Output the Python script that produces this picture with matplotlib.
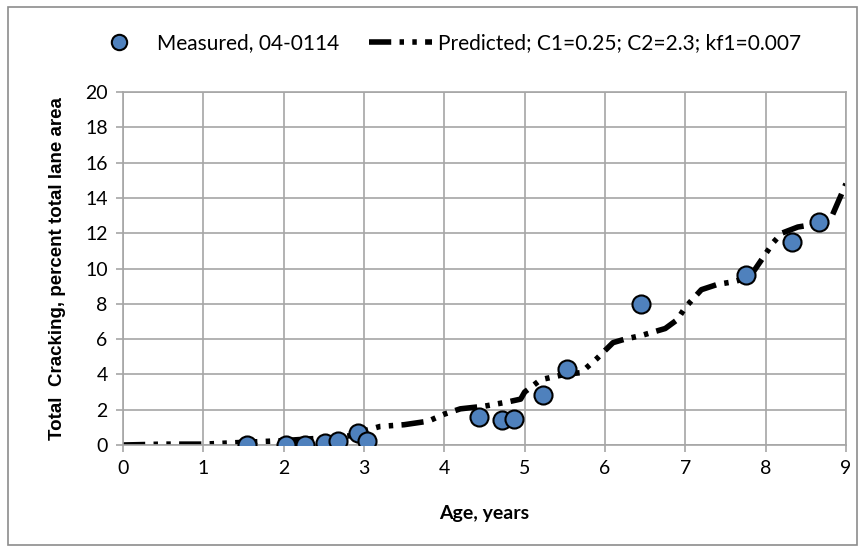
import matplotlib.pyplot as plt
from matplotlib.patches import Rectangle

plt.rcParams['font.family'] = ['Lato', 'DejaVu Sans']

# measured data, 04-0114
age_meas = [1.54, 2.03, 2.27, 2.52, 2.68, 2.93, 3.04, 4.43, 4.72, 4.87, 5.23, 5.53, 6.45, 7.75, 8.33, 8.67]
crack_meas = [0.0, 0.0, 0.0, 0.1, 0.2, 0.7, 0.2, 1.6, 1.4, 1.5, 2.85, 4.3, 8.0, 9.65, 11.5, 12.65]

# predicted curve
age_pred = [0.0, 0.5, 1.0, 1.5, 2.0, 2.5, 2.9, 3.0, 3.2, 3.5, 3.8, 4.0, 4.2, 4.5, 4.8, 4.95,
            5.0, 5.2, 5.5, 5.7, 5.9, 6.1, 6.25, 6.45, 6.75, 6.9, 7.0, 7.2, 7.4, 7.6, 7.8,
            7.95, 8.1, 8.2, 8.4, 8.6, 8.8, 9.0]
crack_pred = [0.0, 0.05, 0.05, 0.15, 0.25, 0.4, 0.55, 0.8, 1.05, 1.15, 1.35, 1.75, 2.05, 2.2, 2.45, 2.6,
              3.0, 3.7, 4.0, 4.1, 4.9, 5.8, 6.0, 6.2, 6.6, 7.1, 7.8, 8.8, 9.1, 9.25, 9.5,
              10.5, 11.5, 12.0, 12.35, 12.5, 12.7, 14.8]

fig = plt.figure(figsize=(8.65, 5.5), dpi=100)
fig.patches.append(Rectangle((0.009, 0.01), 0.982, 0.978, transform=fig.transFigure,
                             fill=False, edgecolor='#8c8c8c', linewidth=1.2))
ax = fig.add_axes([0.1422, 0.1909, 0.8358, 0.6418])

ax.plot(age_meas, crack_meas, 'o', color='#4F81BD', markeredgecolor='black',
        markeredgewidth=1.5, markersize=13, label='Measured, 04-0114', zorder=3)
ax.plot(age_pred, crack_pred, color='black', linewidth=4, linestyle=(0, (4, 1.5, 0.8, 1.5, 0.8, 1.5)),
        label='Predicted; C1=0.25; C2=2.3; kf1=0.007', zorder=2)

ax.set_xlim(0, 9)
ax.set_ylim(0, 20)
ax.set_xticks(range(0, 10))
ax.set_yticks(range(0, 21, 2))
ax.grid(True, color='#a6a6a6', linewidth=1.2)
ax.set_axisbelow(True)
for s in ax.spines.values():
    s.set_color('#a6a6a6')
    s.set_linewidth(1.2)
ax.tick_params(labelsize=14, color='#a6a6a6', length=5, width=1.2, pad=6)
ax.set_xlabel('Age, years', fontsize=14, fontweight='bold', labelpad=20)
ax.set_ylabel('Total  Cracking, percent total lane area', fontsize=13.5, fontweight='bold',
              family=['Liberation Sans', 'DejaVu Sans'], labelpad=14)

ax.legend(loc='center', bbox_to_anchor=(0.445, 1.139), ncol=2, frameon=False,
          fontsize=15, handlelength=3.0, handletextpad=0.3, columnspacing=1.45,
          markerscale=0.85)

fig.savefig('out.png', dpi=100)
